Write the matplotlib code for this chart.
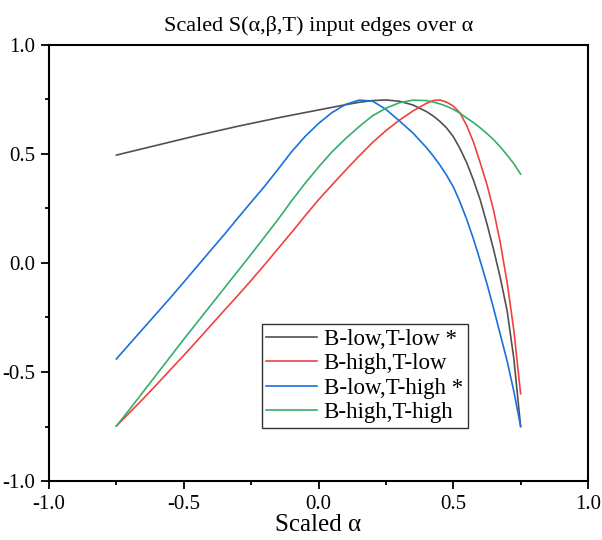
import matplotlib
matplotlib.use("Agg")
import matplotlib.pyplot as plt
from matplotlib.ticker import MultipleLocator

plt.rcParams['font.family'] = ['Liberation Serif', 'DejaVu Serif']
plt.rcParams['axes.unicode_minus'] = False

# Data
x_grid = [-0.75, -0.70, -0.65, -0.60, -0.55, -0.50, -0.45, -0.40, -0.35, -0.30,
          -0.25, -0.20, -0.15, -0.10, -0.05, 0.00, 0.05, 0.10, 0.15, 0.20,
          0.25, 0.30, 0.35, 0.40, 0.425, 0.45, 0.475, 0.50, 0.525, 0.55,
          0.575, 0.60, 0.625, 0.65, 0.675, 0.70, 0.725, 0.75]

low_low = [0.495, 0.510, 0.525, 0.540, 0.555, 0.570, 0.585, 0.599, 0.613, 0.627,
           0.640, 0.653, 0.666, 0.678, 0.690, 0.702, 0.714, 0.726, 0.737, 0.745,
           0.748, 0.742, 0.725, 0.695, 0.675, 0.650, 0.620, 0.580, 0.525, 0.460,
           0.380, 0.290, 0.180, 0.060, -0.070, -0.220, -0.440, -0.750]

high_low = [-0.748, -0.685, -0.622, -0.557, -0.490, -0.424, -0.356, -0.287, -0.218, -0.150,
            -0.080, -0.008, 0.066, 0.140, 0.216, 0.290, 0.358, 0.425, 0.490, 0.552,
            0.607, 0.655, 0.697, 0.732, 0.745, 0.748, 0.738, 0.720, 0.688, 0.630,
            0.555, 0.460, 0.360, 0.240, 0.090, -0.090, -0.310, -0.600]

low_high = [-0.440, -0.370, -0.300, -0.230, -0.160, -0.088, -0.015, 0.058, 0.130, 0.205,
            0.279, 0.352, 0.430, 0.510, 0.580, 0.640, 0.690, 0.727, 0.747, 0.743,
            0.705, 0.652, 0.597, 0.530, 0.492, 0.450, 0.403, 0.350, 0.280, 0.200,
            0.110, 0.010, -0.095, -0.210, -0.330, -0.450, -0.590, -0.750]

high_high = [-0.748, -0.670, -0.590, -0.510, -0.430, -0.350, -0.272, -0.194, -0.116, -0.038,
             0.040, 0.120, 0.200, 0.285, 0.365, 0.440, 0.510, 0.570, 0.625, 0.675,
             0.710, 0.735, 0.747, 0.745, 0.739, 0.730, 0.719, 0.705, 0.687, 0.665,
             0.644, 0.620, 0.594, 0.565, 0.532, 0.495, 0.455, 0.408]

labels = ['B-low,T-low *', 'B-high,T-low', 'B-low,T-high *', 'B-high,T-high']
colors = ['#515151', '#F14040', '#1A6FDF', '#37AD6B']

fig = plt.figure(figsize=(6.02, 5.40), dpi=100)
ax = fig.add_axes([49 / 602, 1 - 481 / 540, (588 - 49) / 602, (481 - 45) / 540])

for ys, lab, c in zip([low_low, high_low, low_high, high_high], labels, colors):
    ax.plot(x_grid, ys, color=c, lw=1.2, label=lab)

ax.set_xlim(-1, 1)
ax.set_ylim(-1, 1)
ax.xaxis.set_major_locator(MultipleLocator(0.5))
ax.xaxis.set_minor_locator(MultipleLocator(0.25))
ax.yaxis.set_major_locator(MultipleLocator(0.5))
ax.yaxis.set_minor_locator(MultipleLocator(0.25))
ax.tick_params(which='both', direction='out', top=False, right=False, width=1.3,
               labelsize=15)
ax.tick_params(which='major', length=6, pad=4)
ax.tick_params(which='minor', length=3)
for s in ax.spines.values():
    s.set_linewidth(1.5)

ax.set_title('Scaled S(\u03b1,\u03b2,T) input edges over \u03b1', fontsize=16, pad=10)
ax.set_xlabel('Scaled \u03b1', fontsize=18, labelpad=0)

leg = ax.legend(loc='lower left', bbox_to_anchor=(0.395, 0.122), borderaxespad=0,
                fontsize=16.5, frameon=True, fancybox=False, edgecolor='black',
                handlelength=2.2, labelspacing=0.15, borderpad=0.2, handletextpad=0.3)
leg.get_frame().set_linewidth(1.0)

fig.savefig('out.png', dpi=100)
